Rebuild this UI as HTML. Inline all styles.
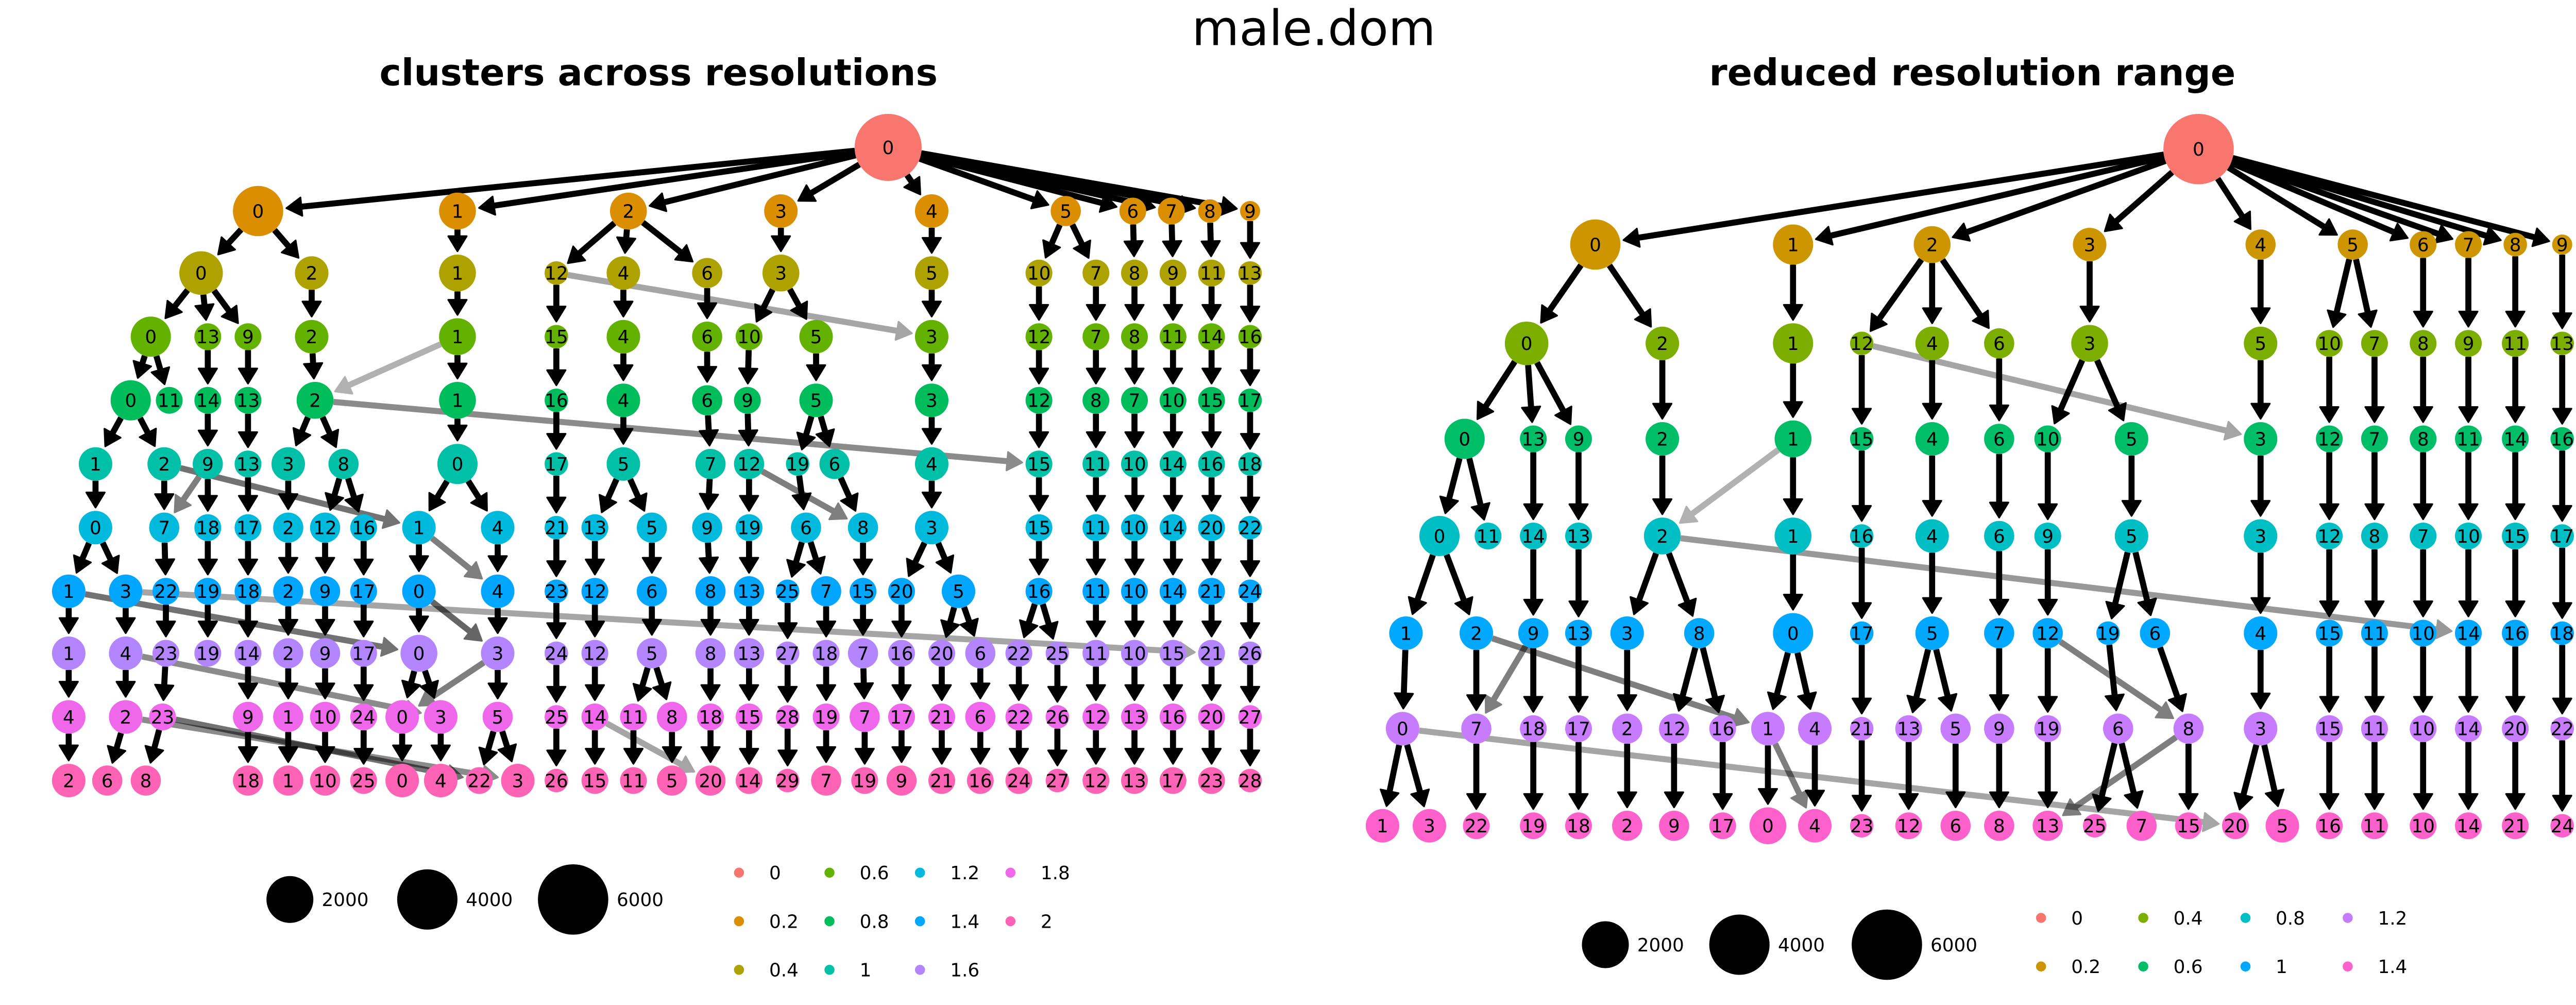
<!DOCTYPE html>
<html><head><meta charset="utf-8"><style>
html,body{margin:0;padding:0;background:#fff;width:5100px;height:1950px;overflow:hidden;}
svg{display:block;font-family:"DejaVu Sans","Liberation Sans",sans-serif;}
</style></head><body>
<svg id="chart" width="5100" height="1950" xmlns="http://www.w3.org/2000/svg">
<g transform="scale(3.2526,3.25)">
<text x="784" y="27" font-size="29" text-anchor="middle">male.dom</text>
<text x="393" y="51" font-size="22" font-weight="bold" text-anchor="middle">clusters across resolutions</text>
<text x="1177" y="51" font-size="22" font-weight="bold" text-anchor="middle">reduced resolution range</text>
<g id="edges"></g><g id="nodes"></g><g id="legend"></g>
</g>
</svg>
<script>
// ---- data: left panel (resolutions 0..2) ----
const leftRes = ["0","0.2","0.4","0.6","0.8","1","1.2","1.4","1.6","1.8","2"];
const leftColors = ["#F8766D","#DB8E00","#AEA200","#64B200","#00BD5C","#00C1A7","#00BADE","#00A6FF","#B385FF","#EF67EB","#FF63B6"];
const leftRowY = [88,126,163,201,239,277,315,353,390,428,466];
const leftRows = [
 [["0",530,20]],
 [["0",154,15],["1",273,11],["2",375,11],["3",466,10],["4",556,10],["5",636,9],["6",676,8],["7",699,8],["8",722,7],["9",746,6]],
 [["0",120,13],["2",186,10],["1",273,11],["12",332,7],["4",372,10],["6",422,9],["3",466,11],["5",556,10],["10",620,8],["7",654,8],["8",677,8],["9",700,8],["11",723,8],["13",746,7]],
 [["0",90,12],["13",124,8],["9",148,8],["2",186,10],["1",273,11],["15",332,7],["4",372,10],["6",422,9],["10",447,8],["5",487,10],["3",556,10],["12",620,8],["7",654,8],["8",677,8],["11",700,8],["14",723,8],["16",746,7]],
 [["0",78,12],["11",101,8],["14",124,8],["13",148,8],["2",188,11],["1",273,11],["16",332,7],["4",372,10],["6",422,9],["9",446,8],["5",487,10],["3",556,10],["12",620,8],["8",654,8],["7",677,8],["10",700,8],["15",723,8],["17",746,7]],
 [["1",57,10],["2",98,10],["9",124,9],["13",148,8],["3",172,10],["8",205,9],["0",273,12],["17",332,7],["5",372,10],["7",424,9],["12",447,9],["19",476,7],["6",498,9],["4",556,10],["15",620,8],["11",654,8],["10",677,8],["14",700,8],["16",723,8],["18",746,7]],
 [["0",57,10],["7",98,9],["18",124,8],["17",148,8],["2",172,9],["12",194,9],["16",217,8],["1",250,10],["4",297,10],["21",332,7],["13",355,8],["5",389,9],["9",422,9],["19",447,8],["6",481,9],["8",515,9],["3",556,10],["15",620,8],["11",654,8],["10",677,8],["14",700,8],["20",723,8],["22",746,7]],
 [["1",41,10],["3",75,10],["22",99,8],["19",124,8],["18",148,8],["2",172,9],["9",194,9],["17",217,8],["0",250,10],["4",297,10],["23",332,7],["12",355,8],["6",389,9],["8",424,9],["13",447,9],["25",470,7],["7",493,9],["15",515,8],["20",538,8],["5",572,10],["16",620,8],["11",654,8],["10",677,8],["14",700,8],["21",723,8],["24",746,7]],
 [["1",41,10],["4",75,10],["23",99,8],["19",124,8],["14",148,8],["2",172,9],["9",194,9],["17",217,8],["0",250,11],["3",297,10],["24",332,7],["12",355,8],["5",389,9],["8",424,9],["13",447,9],["27",470,7],["18",493,8],["7",515,9],["16",538,8],["20",562,8],["6",585,9],["22",608,8],["25",631,7],["11",654,8],["10",677,8],["15",700,8],["21",723,8],["26",746,7]],
 [["4",41,10],["2",75,10],["23",97,8],["9",148,9],["1",172,9],["10",194,9],["24",217,8],["0",240,10],["3",263,10],["5",297,9],["25",332,7],["14",355,8],["11",378,8],["8",401,9],["18",424,8],["15",447,8],["28",470,7],["19",493,8],["7",516,9],["17",538,8],["21",562,8],["6",585,9],["22",608,8],["26",631,7],["12",654,8],["13",677,8],["16",700,8],["20",723,8],["27",746,7]],
 [["2",41,10],["6",64,9],["8",87,9],["18",148,9],["1",172,9],["10",194,9],["25",217,8],["0",240,10],["4",263,10],["22",286,8],["3",309,10],["26",332,7],["15",355,8],["11",378,8],["5",401,9],["20",424,9],["14",447,8],["29",470,7],["7",493,9],["19",516,8],["9",538,9],["21",562,8],["16",585,8],["24",608,8],["27",631,7],["12",654,8],["13",677,8],["17",700,8],["23",723,8],["28",746,7]]
];
// explicit dominant parent overrides: [childRowIndex, parentLabel, childLabel]
const leftParents = [[2,"2","12"],[2,"2","6"],[5,"0","2"]];
// extra (non-dominant) edges: [childRowIndex, parentLabel, childLabel, alpha]
const leftExtra = [[3,"12","3",0.35],[4,"1","2",0.3],[5,"2","15",0.45],[6,"2","1",0.55],[6,"0","4",0.5],[6,"9","7",0.5],[6,"12","8",0.5],[6,"7","9",0.5],[7,"1","4",0.5],[7,"9","8",0.45],[8,"1","0",0.55],[8,"0","3",0.6],[9,"4","3",0.45],[9,"3","0",0.5],[10,"2","3",0.45],[10,"23","22",0.55],[10,"14","20",0.35],[8,"3","21",0.35]];

// ---- data: right panel (resolutions 0..1.4) ----
const rightRes = ["0","0.2","0.4","0.6","0.8","1","1.2","1.4"];
const rightColors = ["#F8766D","#CD9600","#7CAE00","#00BE67","#00BFC4","#00A9FF","#C77CFF","#FF61CC"];
const rightRowY = [89,146,205,262,320,378,435,493];
const rightRows = [
 [["0",1312,21]],
 [["0",952,15],["1",1070,12],["2",1153,11],["3",1247,10],["4",1349,9],["5",1404,9],["6",1446,8],["7",1473,8],["8",1501,7],["9",1529,6]],
 [["0",911,13],["2",992,10],["1",1070,12],["12",1111,7],["4",1153,10],["6",1193,9],["3",1247,11],["5",1349,10],["10",1390,8],["7",1417,8],["8",1446,8],["9",1473,8],["11",1501,8],["13",1529,7]],
 [["0",874,12],["13",915,8],["9",942,8],["2",992,10],["1",1070,11],["15",1111,7],["4",1153,10],["6",1193,9],["10",1222,8],["5",1272,10],["3",1349,10],["12",1390,8],["7",1417,8],["8",1446,8],["11",1473,8],["14",1501,8],["16",1529,7]],
 [["0",859,12],["11",888,8],["14",915,8],["13",942,8],["2",992,11],["1",1070,11],["16",1111,7],["4",1153,10],["6",1193,9],["9",1222,8],["5",1272,10],["3",1349,10],["12",1390,8],["8",1417,8],["7",1446,8],["10",1473,8],["15",1501,8],["17",1529,7]],
 [["1",839,10],["2",881,10],["9",915,9],["13",942,8],["3",971,10],["8",1014,9],["0",1070,12],["17",1111,7],["5",1153,10],["7",1193,9],["12",1222,9],["19",1258,7],["6",1286,9],["4",1349,10],["15",1390,8],["11",1417,8],["10",1446,8],["14",1473,8],["16",1501,8],["18",1529,7]],
 [["0",837,10],["7",881,9],["18",915,8],["17",942,8],["2",971,9],["12",999,9],["16",1028,8],["1",1055,10],["4",1083,10],["21",1111,7],["13",1139,8],["5",1167,9],["9",1193,9],["19",1222,8],["6",1264,9],["8",1306,9],["3",1349,10],["15",1390,8],["11",1417,8],["10",1446,8],["14",1473,8],["20",1501,8],["22",1529,7]],
 [["1",825,10],["3",853,10],["22",881,8],["19",915,8],["18",942,8],["2",971,9],["9",999,9],["17",1028,8],["0",1055,11],["4",1083,10],["23",1111,7],["12",1139,8],["6",1167,9],["8",1193,9],["13",1222,9],["25",1250,7],["7",1278,9],["15",1306,8],["20",1334,8],["5",1362,10],["16",1390,8],["11",1417,8],["10",1446,8],["14",1473,8],["21",1501,8],["24",1529,7]]
];
const rightParents = [[2,"2","12"],[5,"0","2"],[7,"0","3"]];
const rightExtra = [[3,"12","3",0.35],[4,"1","2",0.3],[5,"2","14",0.4],[6,"2","1",0.5],[6,"0","4",0.5],[6,"9","7",0.5],[6,"12","8",0.5],[6,"7","9",0.5],[7,"1","4",0.5],[7,"0","20",0.35],[7,"8","13",0.5],[7,"6","7",0.6]];

// ---- size legend data ----
const sizeLabels = ["2000","4000","6000"];
const sizeRadii = [14,18,21];

const NS="http://www.w3.org/2000/svg";
const gE=document.getElementById('edges'), gN=document.getElementById('nodes'), gL=document.getElementById('legend');
function mk(tag,attrs,parent){const e=document.createElementNS(NS,tag);for(const k in attrs)e.setAttribute(k,attrs[k]);parent.appendChild(e);return e;}

function arrow(x1,y1,r1,x2,y2,r2,alpha){
  const dx=x2-x1, dy=y2-y1, L=Math.hypot(dx,dy), ux=dx/L, uy=dy/L;
  const sx=x1+ux*r1, sy=y1+uy*r1, ex=x2-ux*(r2+2), ey=y2-uy*(r2+2);
  const hl=9, hw=5.5;
  const bx=ex-ux*hl, by=ey-uy*hl;
  const g=mk('g',{opacity:alpha},gE);
  
  
  mk('line',{x1:sx,y1:sy,x2:bx+ux*2,y2:by+uy*2,stroke:'#000','stroke-width':3.6},g);
  mk('polygon',{points:`${ex},${ey} ${bx-uy*hw},${by+ux*hw} ${bx+uy*hw},${by-ux*hw}`,fill:'#000',stroke:'#000','stroke-width':1,'stroke-linejoin':'round'},g);
}

function drawPanel(rows,rowY,colors,parents,extra,panel){
  for(let i=1;i<rows.length;i++){
    rows[i].forEach(c=>{
      let best=null;
      const ov=parents.find(p=>p[0]===i&&p[2]===c[0]);
      if(ov) best=rows[i-1].find(n=>n[0]===ov[1]);
      if(!best) rows[i-1].forEach(p=>{if(!best||Math.abs(p[1]-c[1])<Math.abs(best[1]-c[1]))best=p;});
      arrow(best[1],rowY[i-1],best[2],c[1],rowY[i],c[2],1);
    });
  }
  extra.forEach(e=>{
    const p=rows[e[0]-1].find(n=>n[0]===e[1]), c=rows[e[0]].find(n=>n[0]===e[2]);
    if(p&&c)arrow(p[1],rowY[e[0]-1],p[2],c[1],rowY[e[0]],c[2],e[3]);
  });
  rows.forEach((row,i)=>row.forEach(n=>{
    const g=mk('g',{},gN);
    
    
    mk('circle',{cx:n[1],cy:rowY[i],r:n[2],fill:colors[i]},g);
    const t=mk('text',{x:n[1],y:rowY[i]+4,'font-size':11,'text-anchor':'middle'},g);t.textContent=n[0];
  }));
}
drawPanel(leftRows,leftRowY,leftColors,leftParents,leftExtra,'left');
drawPanel(rightRows,rightRowY,rightColors,rightParents,rightExtra,'right');

function sizeLegend(xs,y,panel){
  sizeLabels.forEach((l,i)=>{
    const g=mk('g',{},gL);
    
    
    mk('circle',{cx:xs[i],cy:y,r:sizeRadii[i],fill:'#000'},g);
    const t=mk('text',{x:xs[i]+sizeRadii[i]+5,y:y+4,'font-size':11},g);t.textContent=l;
  });
}
sizeLegend([173,255,342],537,'left');
sizeLegend([958,1038,1126],564,'right');

function colorLegend(res,colors,x0,dx,y0,dy,perCol,panel){
  res.forEach((r,i)=>{
    const col=Math.floor(i/perCol), row=i%perCol;
    const x=x0+col*dx, y=y0+row*dy;
    const g=mk('g',{},gL);
    
    
    mk('circle',{cx:x,cy:y,r:3,fill:colors[i]},g);
    const t=mk('text',{x:x+18,y:y+4,'font-size':11},g);t.textContent=r;
  });
}
colorLegend(leftRes,leftColors,441,54,521,29,3,'left');
colorLegend(rightRes,rightColors,1218,61,548,29,2,'right');
</script>
</body></html>
